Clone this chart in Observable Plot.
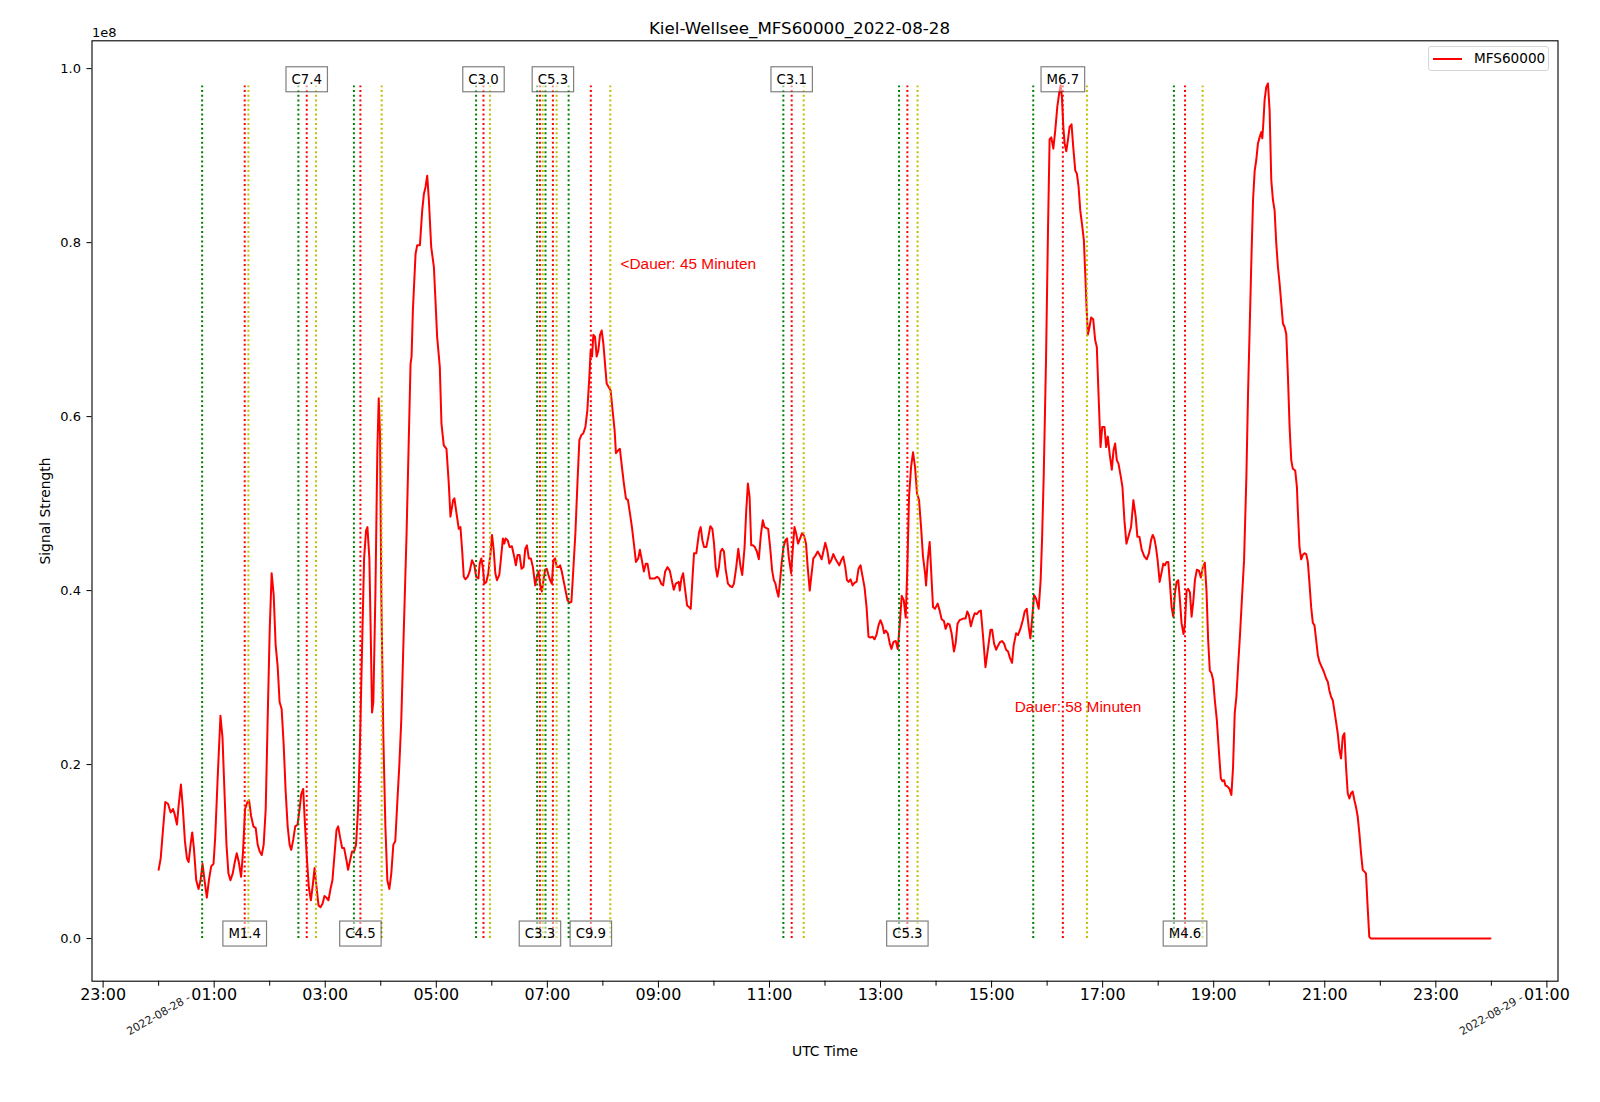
<!DOCTYPE html>
<html>
<head>
<meta charset="utf-8">
<script src="https://cdn.jsdelivr.net/npm/d3@7"></script>
<script src="https://cdn.jsdelivr.net/npm/@observablehq/plot@0.6"></script>
<style>
  html, body { margin: 0; padding: 0; background: white; }
  #wrap { position: relative; width: 1600px; height: 1102px; font-family: "DejaVu Sans", sans-serif; }
  #legend { position: absolute; left: 1428px; top: 46px; width: 121px; height: 25px;
    border: 1px solid #d6d6d6; border-radius: 3px; background: rgba(255,255,255,0.8); box-sizing: border-box; }
  #legend .swatch { position: absolute; left: 4px; top: 11px; width: 29px; height: 2px; background: red; }
  #legend .lbl { position: absolute; left: 45px; top: 3px; font-size: 13.6px; line-height: 17px; color: #000; }
</style>
</head>
<body>
<div id="wrap">
  <div id="legend"><div class="swatch"></div><div class="lbl">MFS60000</div></div>
</div>
<script>
// ---- data (time in minutes after 2022-08-28 00:00 UTC, signal in units of 1e8) ----
const signal = [
[0,0.079],[2.2,0.092],[4.7,0.125],[7.2,0.157],[10.1,0.155],[13,0.145],[15.5,0.149],[17.3,0.143],[19.8,0.131],[21.6,0.153],
[24.1,0.177],[26.2,0.149],[28.4,0.112],[30.6,0.092],[32.4,0.088],[34.5,0.108],[36.3,0.122],[38.1,0.104],[40.6,0.067],[43.1,0.057],
[45.3,0.067],[47.4,0.086],[49.6,0.067],[52.1,0.047],[54.3,0.067],[56.8,0.083],[59.3,0.086],[61.1,0.116],[64,0.190],[66.8,0.256],
[69,0.231],[71.1,0.170],[73.3,0.108],[75.4,0.075],[77.6,0.067],[80.1,0.075],[82.3,0.088],[84.4,0.098],[86.6,0.088],[89.1,0.071],
[91.2,0.100],[93.4,0.149],[95.9,0.157],[97.7,0.159],[99.9,0.141],[102.4,0.129],[104.9,0.127],[107,0.108],[109.2,0.100],[111.4,0.096],
[113.5,0.108],[115.7,0.149],[117.8,0.252],[120,0.354],[122.1,0.420],[124.3,0.395],[126.4,0.338],[128.6,0.313],[130.7,0.272],[132.9,0.264],
[135.1,0.223],[137.2,0.170],[139.4,0.129],[141.5,0.108],[143.3,0.102],[145.5,0.114],[147.6,0.129],[150.1,0.131],[152.3,0.149],[154.1,0.166],
[156.2,0.172],[158,0.133],[160.2,0.092],[162.3,0.059],[164.5,0.044],[166.7,0.063],[168.5,0.081],[170.6,0.059],[172.8,0.038],[174.9,0.036],
[177.1,0.040],[179.2,0.049],[181.4,0.047],[183.5,0.044],[185.7,0.057],[187.8,0.067],[190,0.096],[192.2,0.125],[194,0.129],[196.1,0.116],
[198.3,0.104],[200.4,0.104],[202.6,0.092],[204.7,0.079],[206.9,0.090],[209,0.100],[211.2,0.100],[213.3,0.108],[215.5,0.149],[217.7,0.231],
[219.8,0.334],[222,0.437],[224.1,0.469],[225.6,0.473],[227.7,0.437],[229.1,0.354],[230.6,0.260],[232,0.272],[234.2,0.395],[236.3,0.560],
[237.8,0.621],[239.2,0.580],[240.6,0.395],[242.8,0.231],[245,0.129],[247.1,0.067],[249.3,0.057],[251.4,0.075],[253.6,0.108],[255.7,0.112],
[257.9,0.157],[260,0.198],[262.2,0.252],[264.3,0.332],[267.9,0.466],[272.2,0.661],[273.3,0.669],[274.7,0.722],[277.6,0.787],[279.4,0.797],
[282.3,0.797],[284.8,0.837],[286.6,0.856],[288.4,0.864],[290.2,0.877],[292,0.849],[294.5,0.795],[297.4,0.772],[299.1,0.734],[300.9,0.692],
[303.8,0.657],[305.6,0.592],[308.1,0.567],[311,0.563],[313.5,0.523],[315.3,0.485],[318.2,0.504],[319.6,0.506],[321.8,0.489],[324.3,0.471],
[326.1,0.473],[327.9,0.447],[329.7,0.416],[331.5,0.413],[334,0.416],[336.1,0.422],[338.6,0.435],[341.2,0.429],[343,0.416],[345.5,0.414],
[346.9,0.431],[348.7,0.437],[350.5,0.425],[351.9,0.408],[354.1,0.410],[356.2,0.420],[358.4,0.441],[360.2,0.464],[362,0.447],[363.8,0.420],
[365.6,0.412],[368.1,0.418],[369.9,0.437],[372,0.460],[373.5,0.454],[374.9,0.460],[377.1,0.458],[379.2,0.450],[381.7,0.451],[384.2,0.439],
[386,0.429],[387.8,0.441],[390,0.441],[392.1,0.425],[394.3,0.427],[396.1,0.448],[397.9,0.452],[400,0.437],[402.2,0.437],[404.4,0.427],
[406.9,0.406],[408.7,0.416],[410.5,0.422],[412.3,0.406],[414.1,0.399],[415.8,0.412],[417.6,0.424],[419.4,0.425],[421.2,0.418],[423,0.412],
[424.8,0.408],[426.6,0.435],[428.4,0.437],[430.2,0.427],[432.4,0.427],[433.8,0.429],[435.6,0.422],[437.4,0.412],[439.5,0.401],[441.7,0.389],
[443.9,0.386],[446,0.387],[448.2,0.427],[450.3,0.466],[452.5,0.523],[454.6,0.573],[456.8,0.579],[458.9,0.581],[461.1,0.588],[463.2,0.607],
[465.4,0.646],[466.8,0.676],[468.3,0.669],[469.7,0.694],[471.5,0.692],[473.3,0.669],[475.1,0.676],[476.9,0.694],[478.7,0.699],[480.5,0.684],
[482.3,0.661],[484.1,0.638],[486.2,0.634],[488.4,0.630],[490.5,0.607],[492.7,0.584],[494.1,0.558],[496.3,0.561],[498.4,0.563],[500.6,0.542],
[502.7,0.523],[504.9,0.506],[507.1,0.504],[509.2,0.489],[511.4,0.473],[513.5,0.454],[515.7,0.433],[518.2,0.437],[520,0.447],[522.1,0.435],
[524.3,0.422],[526.4,0.431],[528.2,0.431],[530.8,0.414],[533.6,0.414],[536.1,0.414],[538.6,0.416],[540.8,0.414],[543,0.408],[545.1,0.406],
[547.3,0.422],[549.8,0.427],[552.3,0.423],[554.4,0.412],[556.6,0.401],[558.8,0.408],[562,0.410],[563.1,0.400],[564.9,0.414],[566.7,0.420],
[568.5,0.404],[571,0.383],[573.1,0.381],[574.9,0.379],[576.7,0.412],[578.5,0.443],[581,0.443],[583.9,0.467],[585.7,0.473],[587.5,0.458],
[589.3,0.450],[591.8,0.450],[594,0.462],[596.1,0.474],[598.3,0.471],[600.1,0.454],[601.9,0.427],[603.6,0.416],[605.4,0.427],[607.2,0.445],
[609,0.448],[610.8,0.445],[612.6,0.425],[615.1,0.408],[617.7,0.405],[619.8,0.404],[621.6,0.408],[624.1,0.427],[626.3,0.448],[628.8,0.427],
[630.6,0.418],[633.1,0.450],[634.9,0.492],[636.7,0.523],[638.5,0.508],[640.3,0.452],[642.1,0.452],[644.2,0.450],[646.4,0.445],[648.5,0.436],
[650.7,0.464],[652.8,0.481],[654.6,0.473],[656.4,0.472],[658.6,0.471],[660.7,0.450],[662.9,0.423],[664.7,0.412],[666.5,0.408],[667.9,0.400],
[669.7,0.393],[671.5,0.412],[673.3,0.433],[675.1,0.450],[677.3,0.458],[679,0.460],[680.8,0.439],[683.4,0.420],[685.2,0.448],[687,0.473],
[688.8,0.466],[690.9,0.454],[693.1,0.460],[695.2,0.466],[697.4,0.463],[699.5,0.454],[701.3,0.427],[703.5,0.400],[705.6,0.420],[707.4,0.437],
[709.6,0.440],[712.1,0.445],[714.2,0.441],[716.4,0.436],[718.5,0.446],[720.3,0.455],[722.5,0.446],[724.7,0.431],[726.8,0.435],[729,0.442],
[731.1,0.437],[733.3,0.433],[735.4,0.429],[737.6,0.435],[739.7,0.439],[741.9,0.427],[743.7,0.412],[745.5,0.410],[747.6,0.413],[749.8,0.406],
[751.9,0.409],[754.1,0.410],[756.2,0.425],[758.4,0.429],[760.6,0.416],[762.7,0.404],[764.9,0.381],[767,0.347],[769.2,0.346],[771.3,0.347],
[773.5,0.344],[775.6,0.349],[777.8,0.360],[779.9,0.366],[782.1,0.360],[783.9,0.351],[785.7,0.354],[787.8,0.351],[790,0.339],[791.8,0.333],
[793.9,0.341],[796.5,0.342],[798.6,0.333],[800.8,0.362],[802.9,0.394],[805.1,0.389],[807.2,0.369],[809,0.427],[810.8,0.508],[813,0.542],
[815.1,0.559],[817.3,0.542],[819.4,0.512],[821.6,0.504],[823.8,0.473],[825.9,0.439],[828.1,0.420],[829.2,0.406],[831,0.435],[833.1,0.456],
[834.5,0.427],[836.7,0.381],[838.8,0.379],[841.7,0.385],[843.9,0.377],[846,0.367],[848.5,0.365],[850.3,0.356],[852.5,0.362],[854.6,0.361],
[856.8,0.351],[859.3,0.330],[861.1,0.339],[863.2,0.362],[865.4,0.366],[867.6,0.367],[869.7,0.368],[871.9,0.368],[873.7,0.376],[875.5,0.372],
[877.6,0.359],[879.8,0.368],[881.9,0.374],[884.1,0.373],[886.2,0.376],[888.4,0.377],[890.5,0.351],[893.4,0.312],[896.3,0.335],[898.8,0.355],
[900.6,0.355],[902.7,0.339],[904.9,0.332],[907.1,0.337],[909.2,0.341],[911.4,0.342],[913.5,0.339],[915.7,0.332],[917.8,0.330],[920,0.322],
[922.1,0.317],[923.9,0.337],[926.5,0.351],[928.6,0.349],[931.1,0.356],[933.7,0.366],[935.8,0.376],[938,0.379],[940.1,0.358],[941.9,0.345],
[943.7,0.366],[945.9,0.395],[948,0.391],[950.9,0.379],[953,0.412],[954.5,0.458],[956.3,0.531],[958.8,0.665],[961,0.818],[962.7,0.919],
[964.5,0.921],[966.7,0.908],[968.8,0.929],[971,0.956],[973.2,0.973],[974.6,0.981],[976,0.967],[977.5,0.933],[978.9,0.914],[980.7,0.905],
[982.5,0.918],[984.3,0.933],[986.4,0.936],[988.2,0.910],[990.4,0.883],[992.2,0.879],[994,0.864],[995.8,0.837],[997.6,0.822],[999.7,0.803],
[1001.2,0.764],[1002.6,0.726],[1004,0.694],[1005.8,0.703],[1007.6,0.714],[1009.8,0.712],[1011.9,0.688],[1013.7,0.680],[1015.5,0.627],[1017.7,0.565],
[1019.5,0.588],[1022,0.588],[1023.8,0.565],[1025.6,0.577],[1027.7,0.556],[1029.9,0.539],[1031.7,0.561],[1033.5,0.569],[1035.3,0.550],[1037.1,0.546],
[1039.6,0.531],[1041.4,0.519],[1043.5,0.481],[1045.7,0.454],[1047.8,0.462],[1050.7,0.473],[1053.2,0.504],[1055.7,0.485],[1057.5,0.462],[1059.7,0.462],
[1062.2,0.447],[1065.1,0.439],[1067.6,0.436],[1070.1,0.443],[1072.3,0.458],[1074.1,0.464],[1075.8,0.460],[1077.6,0.450],[1079.4,0.435],[1081.6,0.410],
[1083.7,0.421],[1085.5,0.431],[1087.3,0.429],[1089.1,0.433],[1090.9,0.433],[1092.7,0.408],[1094.5,0.381],[1096.3,0.370],[1098.1,0.397],[1099.9,0.410],
[1101.7,0.412],[1103.5,0.389],[1105.3,0.362],[1107.4,0.350],[1108.9,0.362],[1110.7,0.400],[1112.5,0.402],[1114.3,0.398],[1116.1,0.370],[1117.9,0.387],
[1119.7,0.412],[1121.8,0.424],[1124,0.423],[1126.1,0.415],[1128.3,0.427],[1130.4,0.432],[1132.2,0.400],[1134,0.343],[1135.8,0.308],[1137.6,0.305],
[1139.4,0.297],[1141.2,0.274],[1143.4,0.251],[1145.5,0.217],[1147.7,0.184],[1149.5,0.181],[1151.2,0.182],[1152.7,0.176],[1154.8,0.175],[1157,0.172],
[1159.1,0.165],[1160.9,0.197],[1162.7,0.259],[1164.5,0.278],[1166.3,0.312],[1168.5,0.351],[1170.6,0.393],[1172.8,0.435],[1175.3,0.531],[1177.1,0.627],
[1178.9,0.703],[1180.7,0.780],[1182.5,0.849],[1184.3,0.883],[1186,0.895],[1187.8,0.914],[1189.6,0.921],[1191.4,0.927],[1192.5,0.920],[1193.6,0.937],
[1195,0.964],[1196.8,0.979],[1198.6,0.983],[1200.4,0.952],[1202.2,0.872],[1204,0.849],[1205.8,0.837],[1207.6,0.799],[1209.4,0.772],[1211.2,0.753],
[1213,0.730],[1214.8,0.707],[1216.6,0.703],[1218.4,0.695],[1220.2,0.646],[1222,0.588],[1223.8,0.550],[1225.5,0.540],[1228.1,0.538],[1229.9,0.519],
[1230.9,0.492],[1232.7,0.450],[1234.5,0.436],[1236.3,0.441],[1238.1,0.443],[1239.9,0.442],[1241.7,0.433],[1243.5,0.408],[1245.3,0.381],[1247.1,0.363],
[1248.9,0.360],[1250.7,0.343],[1252.5,0.326],[1254.3,0.318],[1256.8,0.312],[1258.9,0.307],[1261.5,0.299],[1263.3,0.295],[1265,0.285],[1266.8,0.278],
[1268.6,0.274],[1270.4,0.262],[1272.2,0.249],[1274,0.236],[1275.8,0.217],[1277.6,0.207],[1279.4,0.232],[1281.2,0.236],[1283,0.197],[1284.8,0.167],
[1286.6,0.161],[1288.4,0.167],[1290.2,0.169],[1292,0.159],[1293.8,0.151],[1295.6,0.140],[1297.4,0.121],[1299.2,0.098],[1301,0.079],[1302.8,0.077],
[1304.5,0.075],[1306.3,0.037],[1308.1,0.002],[1309.9,0],[1439,0]
];

// flares: class, start, peak, end (UTC on 2022-08-28), label position
const flareClass = ["M1.4","C7.4","C4.5","C3.0","C3.3","C5.3","C9.9","C3.1","C5.3","M6.7","M4.6"];
const flareStart = ["00:47","02:31","03:31","05:43","06:49","06:58","07:23","11:15","13:20","15:45","18:17"];
const flarePeak  = ["01:33","02:40","03:38","05:51","06:52","07:06","07:47","11:24","13:29","16:17","18:29"];
const flareEnd   = ["01:37","02:50","04:01","05:58","06:55","07:10","08:08","11:37","13:40","16:43","18:48"];
const flareLabelAt = ["bottom","top","bottom","top","bottom","top","bottom","top","bottom","top","bottom"];

const durationNotes = [
  {time: "08:19", value: 0.77, text: "<Dauer: 45 Minuten"},
  {time: "15:25", value: 0.26, text: "Dauer: 58 Minuten"}
];

const majorTickMinutes = [-60, 60, 180, 300, 420, 540, 660, 780, 900, 1020, 1140, 1260, 1380, 1500];
const minorTickMinutes = [0, 120, 240, 360, 480, 600, 720, 840, 960, 1080, 1200, 1320, 1440];
const dateLabelMinutes = [0, 1440];
const yTicks = [0, 0.2, 0.4, 0.6, 0.8, 1.0];
const titleText = "Kiel-Wellsee_MFS60000_2022-08-28";

// ---- helpers ----
const T0 = Date.UTC(2022, 7, 28);
const atMin = m => new Date(T0 + m * 60000);
const hm = s => { const [h, m] = s.split(":").map(Number); return h * 60 + m; };

const flares = flareClass.map((c, i) => ({
  cls: c,
  start: atMin(hm(flareStart[i])),
  peak: atMin(hm(flarePeak[i])),
  end: atMin(hm(flareEnd[i])),
  labelY: flareLabelAt[i] === "top" ? 0.9875 : 0.0055
}));

const font = "DejaVu Sans";
const dotted = "2,2.7";
const LABEL_FILL = "#010101"; // used to find the flare labels afterwards

const chart = Plot.plot({
  width: 1600,
  height: 1102,
  marginLeft: 91.5,
  marginRight: 42.5,
  marginTop: 40.3,
  marginBottom: 121.3,
  style: {fontFamily: font, background: "white", color: "black"},
  x: {type: "utc", domain: [atMin(-72), atMin(1512)]},
  y: {domain: [-0.049, 1.032]},
  marks: [
    Plot.line(signal, {x: d => atMin(d[0]), y: d => d[1], stroke: "red", strokeWidth: 2}),
    Plot.ruleX(flares, {x: "start", y1: 0, y2: 0.98, stroke: "green", strokeWidth: 2, strokeDasharray: dotted}),
    Plot.ruleX(flares, {x: "peak", y1: 0, y2: 0.98, stroke: "red", strokeWidth: 2, strokeDasharray: dotted}),
    Plot.ruleX(flares, {x: "end", y1: 0, y2: 0.98, stroke: "#bfbf00", strokeWidth: 2, strokeDasharray: dotted}),
    Plot.text(flares, {x: "peak", y: "labelY", text: "cls", fontSize: 13.3, fill: LABEL_FILL,
      textAnchor: "middle", lineAnchor: "middle"}),
    Plot.text(durationNotes, {x: d => atMin(hm(d.time)), y: "value", text: "text", fill: "red",
      fontFamily: "Liberation Sans", fontSize: 15.4, textAnchor: "start", lineAnchor: "bottom"}),
    Plot.frame({stroke: "black", strokeWidth: 1.1}),
    Plot.axisY({ticks: yTicks, tickFormat: d3.format(".1f"), tickSize: 5, tickPadding: 6, fontSize: 13, label: null}),
    Plot.axisX({ticks: majorTickMinutes.map(atMin), tickFormat: d3.utcFormat("%H:%M"), tickSize: 7, tickPadding: 1,
      fontSize: 15.9, label: null}),
    Plot.axisX({ticks: minorTickMinutes.map(atMin), tickFormat: () => "", tickSize: 5, label: null}),
    Plot.text(dateLabelMinutes, {x: d => atMin(d), text: d => d3.utcFormat("%Y-%m-%d -")(atMin(d)),
      frameAnchor: "bottom", dy: 33.5, rotate: -30, fontSize: 11, textAnchor: "middle", lineAnchor: "middle", fill: "#222"}),
    Plot.text(["1e8"], {frameAnchor: "top-left", text: d => d, dy: -3.6, textAnchor: "start", lineAnchor: "bottom", fontSize: 13}),
    Plot.text(["Signal Strength"], {frameAnchor: "left", text: d => d, dx: -46.5, rotate: -90, fontSize: 13.9,
      textAnchor: "middle", lineAnchor: "middle"}),
    Plot.text(["UTC Time"], {frameAnchor: "bottom", text: d => d, dy: 70, fontSize: 13.9, textAnchor: "middle", lineAnchor: "middle"}),
    Plot.text([titleText], {frameAnchor: "top", text: d => d, dx: -25.5, dy: -11.7, fontSize: 16.7, textAnchor: "middle", lineAnchor: "middle"})
  ]
});

const wrap = document.getElementById("wrap");
wrap.insertBefore(chart, wrap.firstChild);
chart.style.display = "block";

// semi-transparent boxes behind the flare class labels
const labelTexts = Array.from(chart.querySelectorAll("text")).filter(t => {
  const own = t.getAttribute("fill");
  const parentFill = t.parentNode && t.parentNode.getAttribute && t.parentNode.getAttribute("fill");
  return own === LABEL_FILL || parentFill === LABEL_FILL;
});
labelTexts.forEach(t => {
  const b = t.getBBox();
  const pad = 5.5;
  const r = document.createElementNS("http://www.w3.org/2000/svg", "rect");
  r.setAttribute("x", b.x - pad);
  r.setAttribute("y", b.y - pad + 0.5);
  r.setAttribute("width", b.width + 2 * pad);
  r.setAttribute("height", b.height + 2 * pad - 1);
  r.setAttribute("fill", "white");
  r.setAttribute("fill-opacity", "0.5");
  r.setAttribute("stroke", "black");
  r.setAttribute("stroke-opacity", "0.5");
  r.setAttribute("stroke-width", "1.2");
  const tr = t.getAttribute("transform");
  if (tr) r.setAttribute("transform", tr);
  t.parentNode.insertBefore(r, t);
});
</script>
</body>
</html>
